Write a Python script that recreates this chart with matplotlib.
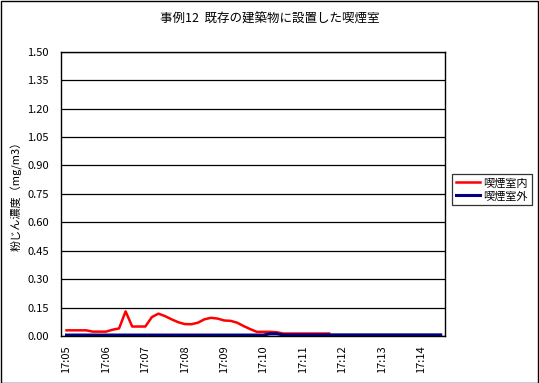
import matplotlib
matplotlib.use("Agg")
import matplotlib.pyplot as plt
from matplotlib.patches import Rectangle

plt.rcParams['font.family'] = ['Noto Sans CJK JP', 'DejaVu Sans']

# 10 second samples from 17:05:00
inside = [0.030, 0.030, 0.030, 0.030, 0.023, 0.023, 0.023, 0.033, 0.040, 0.130,
          0.050, 0.050, 0.050, 0.100, 0.118, 0.105, 0.088, 0.073, 0.063, 0.062,
          0.070, 0.088, 0.096, 0.092, 0.082, 0.080, 0.070, 0.052, 0.036, 0.022,
          0.022, 0.022, 0.020, 0.013, 0.013, 0.013, 0.013, 0.013, 0.013, 0.013,
          0.013]
outside = [0.005] * 31 + [0.012, 0.012] + [0.006] * 25

tick_labels = ["17:05", "17:06", "17:07", "17:08", "17:09",
               "17:10", "17:11", "17:12", "17:13", "17:14"]
tick_pos = [i * 6 for i in range(len(tick_labels))]
yticks = [i * 0.15 for i in range(11)]

fig = plt.figure(figsize=(5.39, 3.83), dpi=100)
ax = fig.add_axes([0.1137, 0.1227, 0.825 - 0.1137, 0.865 - 0.1227])

ax.plot(range(len(inside)), inside, color='#ff0000', lw=1.8, label='喫煙室内')
ax.plot(range(len(outside)), outside, color='#000080', lw=2.2, label='喫煙室外')

ax.set_ylim(0, 1.5)
ax.set_xlim(-0.8, 57.6)
ax.set_yticks(yticks)
ax.set_yticklabels(["%.2f" % v for v in yticks], fontsize=8)
ax.set_xticks(tick_pos)
ax.set_xticklabels(tick_labels, rotation=90, fontsize=8)
ax.tick_params(axis='y', length=0, pad=9)
ax.tick_params(axis='x', length=0, pad=7)
ax.grid(axis='y', color='black', lw=0.9)
ax.set_axisbelow(True)
for s in ax.spines.values():
    s.set_color('black')
    s.set_linewidth(1.0)

ax.set_ylabel('粉じん濃度（mg/m3）', fontsize=8, labelpad=3)
fig.text(0.5, 0.95, '事例12  既存の建築物に設置した喫煙室', ha='center', va='center', fontsize=9)

leg = fig.legend(loc='center left', bbox_to_anchor=(0.838, 0.505), fontsize=8,
                 frameon=True, fancybox=False, handlelength=2.2, handletextpad=0.3,
                 borderpad=0.35, labelspacing=0.25, borderaxespad=0)
leg.get_frame().set_edgecolor('black')
leg.get_frame().set_linewidth(0.9)

fig.patches.append(Rectangle((0.001, 0.001), 0.997, 0.996, transform=fig.transFigure,
                             fill=False, edgecolor='black', lw=1.0))

fig.savefig('out.png', dpi=100)
